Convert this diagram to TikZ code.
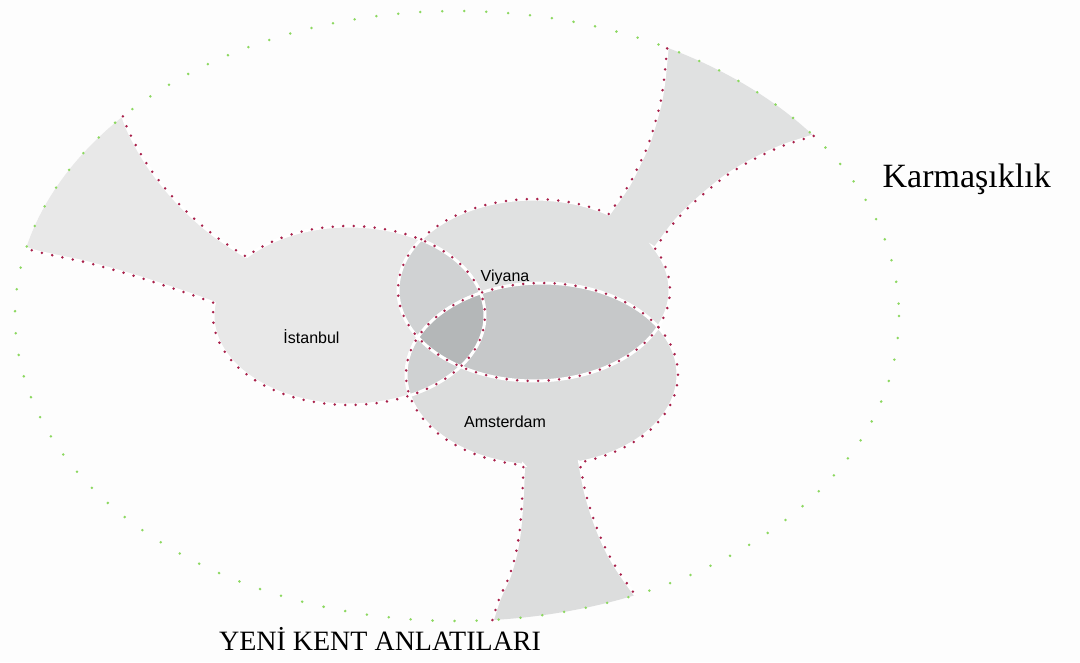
\documentclass[tikz,border=0pt]{standalone}
\usepackage{fontspec}
\setmainfont{Liberation Serif}
\newfontfamily\labelsans{Liberation Sans}
\definecolor{bgc}{HTML}{FDFDFD}
\definecolor{istc}{HTML}{E8E8E8}
\definecolor{viyc}{HTML}{E0E1E1}
\definecolor{amsc}{HTML}{DCDDDD}
\definecolor{ivc}{HTML}{D0D2D3}
\definecolor{iac}{HTML}{CFD1D2}
\definecolor{vac}{HTML}{C6C8C9}
\definecolor{allc}{HTML}{B4B7B8}
\definecolor{dotred}{HTML}{A8204A}
\definecolor{dotgreen}{HTML}{8CD860}
\begin{document}
\begin{tikzpicture}[x=1pt,y=-1pt,
  reddots/.style={draw=dotred, line width=2.8pt, line cap=round, dash pattern=on 0pt off 10.5pt},
  whiteline/.style={draw=white, line width=3pt},
  greendots/.style={draw=dotgreen, line width=2.8pt, line cap=round, dash pattern=on 0pt off 22pt},
  citylabel/.style={font=\labelsans\fontsize{16}{19}\selectfont, text=black, inner sep=0pt, anchor=base},
  titlelabel/.style={font=\fontsize{34}{40}\selectfont, text=black, inner sep=0pt, anchor=base}]

\path[use as bounding box, fill=bgc] (0,0) rectangle (1080,662);

% ellipses of the three cities
\def\ellI{plot[domain=0:360,samples=120,variable=\t] ({349+136*cos(\t)},{315.5+89.5*sin(\t)}) -- cycle}
\def\ellV{plot[domain=0:360,samples=120,variable=\t] ({534+136*cos(\t)},{290+91*sin(\t)}) -- cycle}
\def\ellA{plot[domain=0:360,samples=120,variable=\t] ({542+136*cos(\t)},{374.5+91.5*sin(\t)}) -- cycle}

% open outlines (horn + ellipse)
\def\istred{plot[smooth] coordinates {(122.9,116.3) (128.1,130) (138.4,150) (150.5,169.3) (164.3,187.3) (179.1,204) (195.6,220) (212.8,234.3) (231.4,247.3) (246.4,256.8)}
  -- plot[domain=221:548,samples=120,variable=\t] ({349+136*cos(\t)},{315.5+89.5*sin(\t)})
  -- plot[smooth] coordinates {(214.3,303) (190.4,294.3) (168.7,287) (147.4,280) (125.7,273.3) (103.3,267) (81.6,261.3) (59.2,256.7) (36.8,251.7) (26,248.4)}}
\def\viyred{plot[smooth] coordinates {(813.7,135.9) (785.2,145) (764.5,154) (743.9,164.7) (724.9,176.7) (707,191) (690.5,205.7) (674.3,222.3) (654.9,248.3)}
  -- plot[domain=332.7:663.4,samples=120,variable=\t] ({534+136*cos(\t)},{290+91*sin(\t)})
  -- plot[smooth] coordinates {(608.9,214) (627.8,186.7) (638.1,166.7) (647.8,145.7) (654.7,124.3) (660.5,102.3) (664,80) (667.2,47.7)}}
\def\amsred{plot[smooth] coordinates {(492.4,620) (499.3,598.7) (509,577) (515.5,555) (519.3,533.3) (521.3,511) (522.7,487.7) (523.5,465.1)}
  -- plot[domain=97.8:433.9,samples=120,variable=\t] ({542+136*cos(\t)},{374.5+91.5*sin(\t)})
  -- plot[smooth] coordinates {(579.7,462.4) (584.8,489.3) (591,511.3) (598.5,532.3) (608.2,553.7) (619.9,573.3) (635.4,595.1)}}

% fills
\fill[istc] \istred -- plot[domain=192.8:220.9,samples=20,variable=\t] ({457+442*cos(\t)},{316+305*sin(\t)}) -- cycle;
\fill[viyc] \viyred -- plot[domain=298.4:323.8,samples=20,variable=\t] ({457+442*cos(\t)},{316+305*sin(\t)}) -- cycle;
\fill[amsc] \amsred -- plot[domain=66.2:85.4,samples=20,variable=\t] ({457+442*cos(\t)},{316+305*sin(\t)}) -- cycle;

\begin{scope}
  \clip \ellI;
  \fill[iac] \ellA;
\end{scope}
\begin{scope}
  \clip \ellV;
  \fill[vac] \ellA;
\end{scope}
\begin{scope}
  \clip \ellI;
  \fill[ivc] \ellV;
\end{scope}
\begin{scope}
  \clip \ellI;
  \clip \ellV;
  \fill[allc] \ellA;
\end{scope}

% outlines
\path[whiteline] \istred;
\path[whiteline] \viyred;
\path[whiteline] \amsred;
\path[reddots] \istred;
\path[reddots] \viyred;
\path[reddots] \amsred;

% outer ellipse
\path[greendots] plot[domain=0:360,samples=240,variable=\t] ({457+442*cos(\t)},{316+305*sin(\t)});

% labels
\node[citylabel] (viyana) at (505,281.7) {Viyana};
\node[citylabel] (istanbul) at (311.5,343.3) {İstanbul};
\node[citylabel] (amsterdam) at (505,427.3) {Amsterdam};
\node[titlelabel] (karmasiklik) at (966.7,187.3) {Karmaşıklık};
\node[titlelabel, font=\fontsize{28}{33}\selectfont] (anlatilar) at (380,650) {YENİ KENT ANLATILARI};
\end{tikzpicture}
\end{document}
